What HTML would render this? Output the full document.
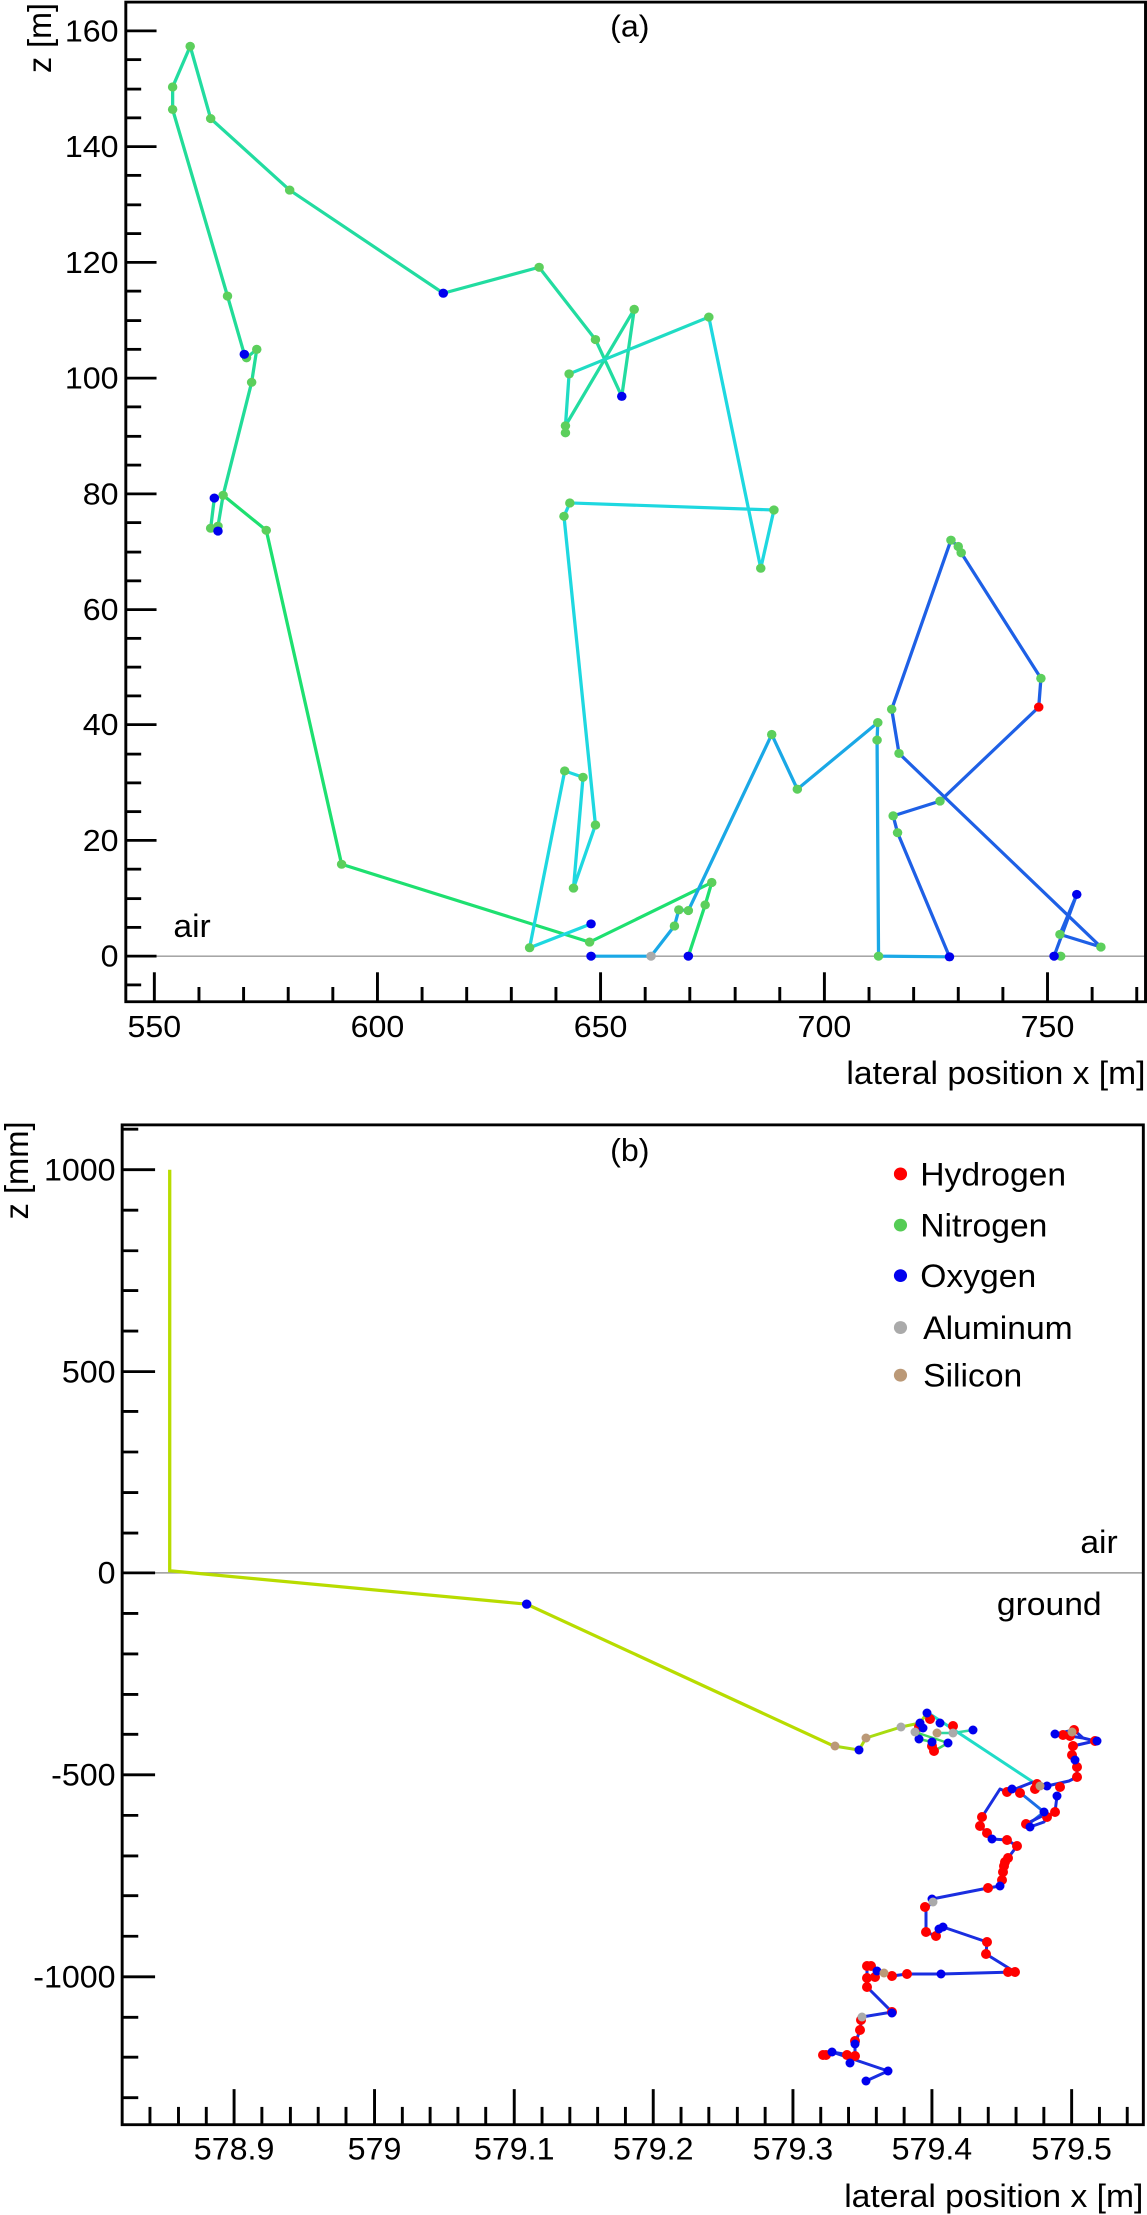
<!DOCTYPE html>
<html><head><meta charset="utf-8"><style>
html,body{margin:0;padding:0;background:#fff;}
svg{display:block;}
text{font-family:"Liberation Sans",sans-serif;fill:#000;}
</style></head><body>
<svg width="1147" height="2215" viewBox="0 0 1147 2215" xmlns="http://www.w3.org/2000/svg">
<g transform="scale(0.7315,0.7015)">
  <line x1="172" y1="1363" x2="1566" y2="1363" stroke="#999" stroke-width="2"/>
  <rect x="172" y="3" width="1394" height="1425" fill="none" stroke="#000" stroke-width="4"/>
  <g stroke="#000" stroke-width="4">
    <line x1="172" y1="44" x2="214" y2="44"/><line x1="172" y1="209" x2="214" y2="209"/>
    <line x1="172" y1="374" x2="214" y2="374"/><line x1="172" y1="539" x2="214" y2="539"/>
    <line x1="172" y1="704" x2="214" y2="704"/><line x1="172" y1="869" x2="214" y2="869"/>
    <line x1="172" y1="1033" x2="214" y2="1033"/><line x1="172" y1="1198" x2="214" y2="1198"/>
    <line x1="172" y1="1363" x2="214" y2="1363"/>
    <line x1="172" y1="85" x2="193" y2="85"/><line x1="172" y1="127" x2="193" y2="127"/><line x1="172" y1="168" x2="193" y2="168"/>
    <line x1="172" y1="250" x2="193" y2="250"/><line x1="172" y1="292" x2="193" y2="292"/><line x1="172" y1="333" x2="193" y2="333"/>
    <line x1="172" y1="415" x2="193" y2="415"/><line x1="172" y1="457" x2="193" y2="457"/><line x1="172" y1="498" x2="193" y2="498"/>
    <line x1="172" y1="580" x2="193" y2="580"/><line x1="172" y1="622" x2="193" y2="622"/><line x1="172" y1="663" x2="193" y2="663"/>
    <line x1="172" y1="745" x2="193" y2="745"/><line x1="172" y1="787" x2="193" y2="787"/><line x1="172" y1="828" x2="193" y2="828"/>
    <line x1="172" y1="910" x2="193" y2="910"/><line x1="172" y1="951" x2="193" y2="951"/><line x1="172" y1="992" x2="193" y2="992"/>
    <line x1="172" y1="1075" x2="193" y2="1075"/><line x1="172" y1="1116" x2="193" y2="1116"/><line x1="172" y1="1157" x2="193" y2="1157"/>
    <line x1="172" y1="1239" x2="193" y2="1239"/><line x1="172" y1="1281" x2="193" y2="1281"/><line x1="172" y1="1322" x2="193" y2="1322"/>
    <line x1="172" y1="1404" x2="193" y2="1404"/>
    <line x1="211" y1="1428" x2="211" y2="1386"/><line x1="516" y1="1428" x2="516" y2="1386"/>
    <line x1="821" y1="1428" x2="821" y2="1386"/><line x1="1127" y1="1428" x2="1127" y2="1386"/>
    <line x1="1432" y1="1428" x2="1432" y2="1386"/>
    <line x1="272" y1="1428" x2="272" y2="1407"/><line x1="333" y1="1428" x2="333" y2="1407"/><line x1="394" y1="1428" x2="394" y2="1407"/><line x1="455" y1="1428" x2="455" y2="1407"/>
    <line x1="577" y1="1428" x2="577" y2="1407"/><line x1="638" y1="1428" x2="638" y2="1407"/><line x1="699" y1="1428" x2="699" y2="1407"/><line x1="760" y1="1428" x2="760" y2="1407"/>
    <line x1="882" y1="1428" x2="882" y2="1407"/><line x1="943" y1="1428" x2="943" y2="1407"/><line x1="1005" y1="1428" x2="1005" y2="1407"/><line x1="1066" y1="1428" x2="1066" y2="1407"/>
    <line x1="1188" y1="1428" x2="1188" y2="1407"/><line x1="1249" y1="1428" x2="1249" y2="1407"/><line x1="1310" y1="1428" x2="1310" y2="1407"/><line x1="1371" y1="1428" x2="1371" y2="1407"/>
    <line x1="1493" y1="1428" x2="1493" y2="1407"/><line x1="1554" y1="1428" x2="1554" y2="1407"/>
  </g>
  <g font-size="44" text-anchor="end">
    <text x="162" y="59">160</text><text x="162" y="224">140</text><text x="162" y="389">120</text>
    <text x="162" y="554">100</text><text x="162" y="719">80</text><text x="162" y="884">60</text>
    <text x="162" y="1048">40</text><text x="162" y="1213">20</text><text x="162" y="1378">0</text>
  </g>
  <g font-size="44" text-anchor="middle">
    <text x="211" y="1478">550</text><text x="516" y="1478">600</text><text x="821" y="1478">650</text>
    <text x="1127" y="1478">700</text><text x="1432" y="1478">750</text>
    <text x="861" y="52">(a)</text>
  </g>
  <text x="1566" y="1545" font-size="46" text-anchor="end">lateral position x [m]</text>
  <text transform="translate(70,0) rotate(-90)" x="-104" y="0" font-size="46">z [m]</text>
  <text x="237" y="1336" font-size="46">air</text>

  <g fill="none" stroke-width="4.5" stroke-linejoin="round">
    <polyline stroke="#22dca0" points="236,156 236,124 260,66 288,169 396,271 606,418 737,381 814,484 850,565 867,441 773,607 773,617"/>
    <polyline stroke="#20dcc4" points="773,607 778,533 969,452"/>
    <polyline stroke="#22dc98" points="236,156 311,422 334,505 337,510 351,498 344,545 305,706 298,750 298,757"/>
    <polyline stroke="#22dc98" points="293,710 288,753 298,750"/>
    <polyline stroke="#1ee070" points="305,706 364,756 467,1232 806,1343 973,1258 964,1290 941,1363"/>
    <polyline stroke="#1ed8e0" points="969,452 1040,810 1058,727 779,717 771,736 814,1176 784,1266 797,1108 772,1099 724,1351 808,1317"/>
    <polyline stroke="#1aa8e6" points="808,1363 890,1363 922,1320 928,1297 941,1298 1055,1047 1090,1125 1200,1030 1199,1055 1201,1363 1298,1364"/>
    <polyline stroke="#1e60e6" points="1298,1364 1227,1187 1221,1163 1285,1142 1420,1008 1423,967 1314,788 1310,779 1300,770 1219,1011 1229,1074 1505,1350 1449,1332 1472,1275 1441,1363 1450,1363"/>
  </g>
  <g fill="#5ccf5c">
    <circle cx="236" cy="156" r="6.5"/><circle cx="236" cy="124" r="6.5"/><circle cx="260" cy="66" r="6.5"/><circle cx="288" cy="169" r="6.5"/>
    <circle cx="396" cy="271" r="6.5"/><circle cx="737" cy="381" r="6.5"/><circle cx="814" cy="484" r="6.5"/><circle cx="867" cy="441" r="6.5"/>
    <circle cx="773" cy="607" r="6.5"/><circle cx="773" cy="617" r="6.5"/><circle cx="778" cy="533" r="6.5"/><circle cx="969" cy="452" r="6.5"/>
    <circle cx="311" cy="422" r="6.5"/><circle cx="337" cy="510" r="6.5"/><circle cx="351" cy="498" r="6.5"/><circle cx="344" cy="545" r="6.5"/>
    <circle cx="305" cy="706" r="6.5"/><circle cx="298" cy="750" r="6.5"/><circle cx="288" cy="753" r="6.5"/><circle cx="364" cy="756" r="6.5"/>
    <circle cx="467" cy="1232" r="6.5"/><circle cx="806" cy="1343" r="6.5"/><circle cx="973" cy="1258" r="6.5"/><circle cx="964" cy="1290" r="6.5"/>
    <circle cx="1040" cy="810" r="6.5"/><circle cx="1058" cy="727" r="6.5"/><circle cx="779" cy="717" r="6.5"/><circle cx="771" cy="736" r="6.5"/>
    <circle cx="814" cy="1176" r="6.5"/><circle cx="784" cy="1266" r="6.5"/><circle cx="797" cy="1108" r="6.5"/><circle cx="772" cy="1099" r="6.5"/>
    <circle cx="724" cy="1351" r="6.5"/><circle cx="922" cy="1320" r="6.5"/><circle cx="928" cy="1297" r="6.5"/><circle cx="941" cy="1298" r="6.5"/>
    <circle cx="1055" cy="1047" r="6.5"/><circle cx="1090" cy="1125" r="6.5"/><circle cx="1200" cy="1030" r="6.5"/><circle cx="1199" cy="1055" r="6.5"/>
    <circle cx="1201" cy="1363" r="6.5"/><circle cx="1227" cy="1187" r="6.5"/><circle cx="1221" cy="1163" r="6.5"/><circle cx="1285" cy="1142" r="6.5"/>
    <circle cx="1423" cy="967" r="6.5"/><circle cx="1314" cy="788" r="6.5"/><circle cx="1310" cy="779" r="6.5"/><circle cx="1300" cy="770" r="6.5"/>
    <circle cx="1219" cy="1011" r="6.5"/><circle cx="1229" cy="1074" r="6.5"/><circle cx="1505" cy="1350" r="6.5"/><circle cx="1449" cy="1332" r="6.5"/>
    <circle cx="1450" cy="1363" r="6.5"/>
  </g>
  <g fill="#0000ee">
    <circle cx="334" cy="505" r="6.5"/><circle cx="293" cy="710" r="6.5"/><circle cx="298" cy="757" r="6.5"/><circle cx="606" cy="418" r="6.5"/>
    <circle cx="850" cy="565" r="6.5"/><circle cx="808" cy="1317" r="6.5"/><circle cx="808" cy="1363" r="6.5"/><circle cx="941" cy="1363" r="6.5"/>
    <circle cx="1298" cy="1364" r="6.5"/><circle cx="1441" cy="1363" r="6.5"/><circle cx="1472" cy="1275" r="6.5"/>
  </g>
  <circle cx="1420" cy="1008" r="6.5" fill="#ff0000"/>
  <circle cx="890" cy="1363" r="6.5" fill="#aaaaaa"/>
</g>

<g transform="translate(0,1100) scale(0.7315,0.7111)">
  <line x1="167" y1="665" x2="1563" y2="665" stroke="#999" stroke-width="2"/>
  <rect x="167" y="35" width="1396" height="1406" fill="none" stroke="#000" stroke-width="4"/>
  <g stroke="#000" stroke-width="4">
    <line x1="167" y1="98" x2="212" y2="98"/><line x1="167" y1="382" x2="212" y2="382"/><line x1="167" y1="665" x2="212" y2="665"/>
    <line x1="167" y1="949" x2="212" y2="949"/><line x1="167" y1="1233" x2="212" y2="1233"/>
    <line x1="167" y1="41" x2="189" y2="41"/><line x1="167" y1="155" x2="189" y2="155"/><line x1="167" y1="212" x2="189" y2="212"/><line x1="167" y1="268" x2="189" y2="268"/><line x1="167" y1="325" x2="189" y2="325"/>
    <line x1="167" y1="438" x2="189" y2="438"/><line x1="167" y1="495" x2="189" y2="495"/><line x1="167" y1="552" x2="189" y2="552"/><line x1="167" y1="609" x2="189" y2="609"/>
    <line x1="167" y1="722" x2="189" y2="722"/><line x1="167" y1="779" x2="189" y2="779"/><line x1="167" y1="836" x2="189" y2="836"/><line x1="167" y1="892" x2="189" y2="892"/>
    <line x1="167" y1="1006" x2="189" y2="1006"/><line x1="167" y1="1063" x2="189" y2="1063"/><line x1="167" y1="1119" x2="189" y2="1119"/><line x1="167" y1="1176" x2="189" y2="1176"/>
    <line x1="167" y1="1290" x2="189" y2="1290"/><line x1="167" y1="1346" x2="189" y2="1346"/><line x1="167" y1="1403" x2="189" y2="1403"/>
    <line x1="320" y1="1441" x2="320" y2="1391"/><line x1="512" y1="1441" x2="512" y2="1391"/><line x1="703" y1="1441" x2="703" y2="1391"/>
    <line x1="893" y1="1441" x2="893" y2="1391"/><line x1="1084" y1="1441" x2="1084" y2="1391"/><line x1="1274" y1="1441" x2="1274" y2="1391"/>
    <line x1="1465" y1="1441" x2="1465" y2="1391"/>
    <line x1="205" y1="1441" x2="205" y2="1416"/><line x1="244" y1="1441" x2="244" y2="1416"/><line x1="282" y1="1441" x2="282" y2="1416"/>
    <line x1="358" y1="1441" x2="358" y2="1416"/><line x1="397" y1="1441" x2="397" y2="1416"/><line x1="435" y1="1441" x2="435" y2="1416"/><line x1="473" y1="1441" x2="473" y2="1416"/>
    <line x1="550" y1="1441" x2="550" y2="1416"/><line x1="588" y1="1441" x2="588" y2="1416"/><line x1="626" y1="1441" x2="626" y2="1416"/><line x1="664" y1="1441" x2="664" y2="1416"/>
    <line x1="741" y1="1441" x2="741" y2="1416"/><line x1="779" y1="1441" x2="779" y2="1416"/><line x1="817" y1="1441" x2="817" y2="1416"/><line x1="855" y1="1441" x2="855" y2="1416"/>
    <line x1="931" y1="1441" x2="931" y2="1416"/><line x1="969" y1="1441" x2="969" y2="1416"/><line x1="1008" y1="1441" x2="1008" y2="1416"/><line x1="1046" y1="1441" x2="1046" y2="1416"/>
    <line x1="1122" y1="1441" x2="1122" y2="1416"/><line x1="1160" y1="1441" x2="1160" y2="1416"/><line x1="1198" y1="1441" x2="1198" y2="1416"/><line x1="1236" y1="1441" x2="1236" y2="1416"/>
    <line x1="1312" y1="1441" x2="1312" y2="1416"/><line x1="1351" y1="1441" x2="1351" y2="1416"/><line x1="1389" y1="1441" x2="1389" y2="1416"/><line x1="1427" y1="1441" x2="1427" y2="1416"/>
    <line x1="1503" y1="1441" x2="1503" y2="1416"/><line x1="1541" y1="1441" x2="1541" y2="1416"/>
  </g>
  <g font-size="44" text-anchor="end">
    <text x="158" y="113">1000</text><text x="158" y="397">500</text><text x="158" y="680">0</text>
    <text x="158" y="964">-500</text><text x="158" y="1248">-1000</text>
  </g>
  <g font-size="44" text-anchor="middle">
    <text x="320" y="1490">578.9</text><text x="512" y="1490">579</text><text x="703" y="1490">579.1</text>
    <text x="893" y="1490">579.2</text><text x="1084" y="1490">579.3</text><text x="1274" y="1490">579.4</text>
    <text x="1465" y="1490">579.5</text>
    <text x="861" y="86">(b)</text>
  </g>
  <text x="1563" y="1557" font-size="46" text-anchor="end">lateral position x [m]</text>
  <text transform="translate(38,0) rotate(-90)" x="-168" y="0" font-size="46">z [mm]</text>
  <text x="1528" y="637" font-size="46" text-anchor="end">air</text>
  <text x="1506" y="724" font-size="46" text-anchor="end">ground</text>
  <g font-size="46">
    <circle cx="1231" cy="104" r="9" fill="#ff0000"/><text x="1258" y="120">Hydrogen</text>
    <circle cx="1231" cy="176" r="9" fill="#55cc55"/><text x="1258" y="192">Nitrogen</text>
    <circle cx="1231" cy="247" r="9" fill="#0000ee"/><text x="1258" y="263">Oxygen</text>
    <circle cx="1231" cy="320" r="9" fill="#aaaaaa"/><text x="1262" y="336">Aluminum</text>
    <circle cx="1231" cy="387" r="9" fill="#bb9977"/><text x="1262" y="403">Silicon</text>
  </g>
  <polyline fill="none" stroke="#b8dc00" stroke-width="4.5" points="232,98 232,662 720,709 1141,909"/>
  <circle cx="720" cy="709" r="6.5" fill="#0000ee"/>
</g>

<g fill="none" stroke-linejoin="round">
  <polyline stroke="#a8dc10" stroke-width="3" points="834,1746 859,1750 866,1738 901,1727 920,1723 927,1713"/>
  <polyline stroke="#40d860" stroke-width="2.5" points="915,1732 948,1743 934,1751 932,1742 919,1739 919,1727"/>
  <polyline stroke="#30d8a0" stroke-width="2.5" points="937,1733 953,1733 973,1730"/>
  <polyline stroke="#20dcc8" stroke-width="3" points="930,1714 1033,1782"/>
  <polyline stroke="#1a2ee0" stroke-width="3" points="1033,1782 1047,1786 1069,1781 1077,1777 1077,1767 1075,1760 1072,1755 1073,1746 1095,1741 1083,1738 1063,1735 1055,1734 1074,1730 1083,1738"/>
  <polyline stroke="#1a2ee0" stroke-width="3" points="1033,1782 1013,1790 1007,1792 1000,1789 982,1817 980,1826 987,1833 992,1839 1007,1840 1017,1846 1008,1858 1004,1865 1003,1872 1002,1880 1000,1886 988,1888 932,1899 933,1903 926,1907 926,1932 936,1936 943,1927 987,1942 986,1954 1015,1972 941,1974 907,1974 892,1976 877,1971 867,1966 867,1987 892,2012 862,2017 860,2030 855,2044 855,2056 832,2052 888,2071 866,2081"/>
  <polyline stroke="#1a6ee6" stroke-width="3" points="1023,1795 1044,1812 1030,1823 1030,1830"/>
  <polyline stroke="#1a2ee0" stroke-width="3" points="1057,1796 1055,1812 1047,1817 1044,1822 1030,1827 1026,1824 1042,1816"/>
</g>
<g fill="#ff0000">
  <circle cx="930" cy="1719" r="5"/><circle cx="919" cy="1727" r="5"/><circle cx="953" cy="1726" r="5"/>
  <circle cx="932" cy="1746" r="5"/><circle cx="934" cy="1751" r="5"/>
  <circle cx="1037" cy="1784" r="5"/><circle cx="1060" cy="1787" r="5"/><circle cx="1077" cy="1777" r="5"/><circle cx="1077" cy="1767" r="5"/>
  <circle cx="1072" cy="1755" r="5"/><circle cx="1073" cy="1746" r="5"/><circle cx="1095" cy="1741" r="5"/><circle cx="1063" cy="1735" r="5"/>
  <circle cx="1070" cy="1736" r="5"/><circle cx="1074" cy="1730" r="5"/><circle cx="1007" cy="1792" r="5"/><circle cx="1020" cy="1793" r="5"/>
  <circle cx="1035" cy="1789" r="5"/><circle cx="1055" cy="1812" r="5"/><circle cx="1047" cy="1817" r="5"/><circle cx="1026" cy="1824" r="5"/>
  <circle cx="982" cy="1817" r="5"/><circle cx="980" cy="1826" r="5"/><circle cx="987" cy="1833" r="5"/><circle cx="1007" cy="1840" r="5"/>
  <circle cx="1017" cy="1846" r="5"/><circle cx="1008" cy="1858" r="5"/><circle cx="1005" cy="1862" r="5"/><circle cx="1004" cy="1866" r="5"/>
  <circle cx="1003" cy="1872" r="5"/><circle cx="1002" cy="1880" r="5"/><circle cx="988" cy="1888" r="5"/><circle cx="925" cy="1907" r="5"/>
  <circle cx="926" cy="1932" r="5"/><circle cx="936" cy="1936" r="5"/><circle cx="987" cy="1942" r="5"/><circle cx="986" cy="1954" r="5"/>
  <circle cx="1008" cy="1972" r="5"/><circle cx="1015" cy="1972" r="5"/><circle cx="907" cy="1974" r="5"/><circle cx="892" cy="1976" r="5"/>
  <circle cx="867" cy="1966" r="5"/><circle cx="871" cy="1966" r="5"/><circle cx="867" cy="1978" r="5"/><circle cx="875" cy="1977" r="5"/>
  <circle cx="867" cy="1987" r="5"/><circle cx="892" cy="2012" r="5"/><circle cx="861" cy="2020" r="5"/><circle cx="860" cy="2030" r="5"/>
  <circle cx="855" cy="2041" r="5"/><circle cx="823" cy="2055" r="5"/><circle cx="826" cy="2055" r="5"/><circle cx="847" cy="2055" r="5"/><circle cx="855" cy="2056" r="5"/>
</g>
<g fill="#0000ee">
  <circle cx="859" cy="1750" r="4.5"/><circle cx="927" cy="1713" r="4.5"/><circle cx="920" cy="1723" r="4.5"/><circle cx="923" cy="1728" r="4.5"/>
  <circle cx="940" cy="1723" r="4.5"/><circle cx="973" cy="1730" r="4.5"/><circle cx="919" cy="1739" r="4.5"/><circle cx="932" cy="1742" r="4.5"/>
  <circle cx="948" cy="1743" r="4.5"/><circle cx="1047" cy="1786" r="4.5"/><circle cx="1075" cy="1760" r="4.5"/><circle cx="1055" cy="1734" r="4.5"/>
  <circle cx="1097" cy="1741" r="4.5"/><circle cx="1012" cy="1789" r="4.5"/><circle cx="1057" cy="1796" r="4.5"/><circle cx="1044" cy="1812" r="4.5"/>
  <circle cx="1030" cy="1827" r="4.5"/><circle cx="992" cy="1839" r="4.5"/><circle cx="1000" cy="1886" r="4.5"/><circle cx="932" cy="1899" r="4.5"/>
  <circle cx="939" cy="1929" r="4.5"/><circle cx="943" cy="1927" r="4.5"/><circle cx="941" cy="1974" r="4.5"/><circle cx="877" cy="1971" r="4.5"/>
  <circle cx="892" cy="2013" r="4.5"/><circle cx="855" cy="2044" r="4.5"/><circle cx="832" cy="2052" r="4.5"/><circle cx="850" cy="2063" r="4.5"/>
  <circle cx="888" cy="2071" r="4.5"/><circle cx="866" cy="2081" r="4.5"/>
</g>
<g fill="#aaaaaa">
  <circle cx="901" cy="1727" r="4.5"/><circle cx="915" cy="1732" r="4.5"/><circle cx="953" cy="1733" r="4.5"/><circle cx="933" cy="1902" r="4.5"/><circle cx="862" cy="2017" r="4.5"/>
</g>
<g fill="#bb9977">
  <circle cx="835" cy="1746" r="4.5"/><circle cx="866" cy="1738" r="4.5"/><circle cx="937" cy="1733" r="4.5"/><circle cx="1072" cy="1732" r="4.5"/><circle cx="884" cy="1973" r="4.5"/><circle cx="1040" cy="1786" r="4.5"/>
</g>
</svg>
</body></html>
